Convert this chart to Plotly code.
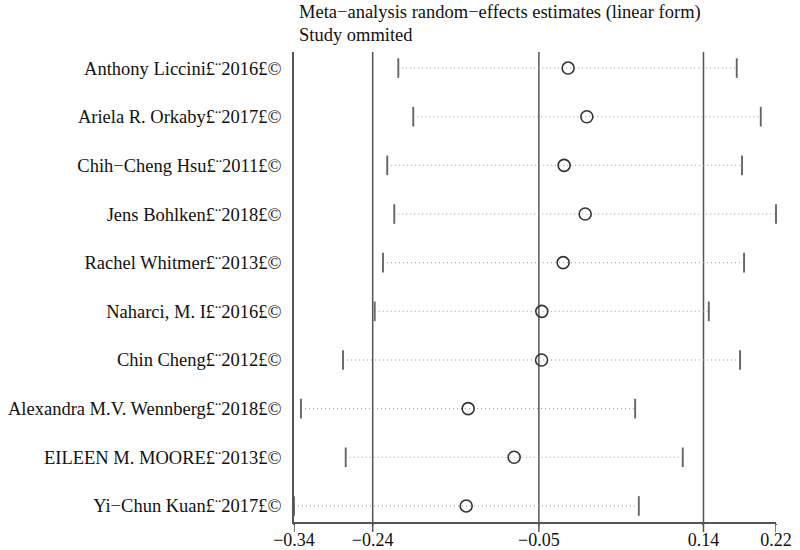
import plotly.graph_objects as go

studies = [
    "Anthony Liccini£¨2016£©",
    "Ariela R. Orkaby£¨2017£©",
    "Chih−Cheng Hsu£¨2011£©",
    "Jens Bohlken£¨2018£©",
    "Rachel Whitmer£¨2013£©",
    "Naharci, M. I£¨2016£©",
    "Chin Cheng£¨2012£©",
    "Alexandra M.V. Wennberg£¨2018£©",
    "EILEEN M. MOORE£¨2013£©",
    "Yi−Chun Kuan£¨2017£©",
]
estimate = [-0.0164, 0.0051, -0.0210, 0.0032, -0.0221, -0.0466, -0.0469, -0.1312, -0.0784, -0.1335]
lower = [-0.2115, -0.1943, -0.2242, -0.2161, -0.2291, -0.2386, -0.2750, -0.3233, -0.2719, -0.3313]
upper = [0.1773, 0.2049, 0.1834, 0.2224, 0.1857, 0.1452, 0.1811, 0.0606, 0.1153, 0.0648]

# combined estimate and its CI (reference lines) plus axis extremes
theta_lower, theta, theta_upper = -0.2409, -0.05, 0.1391
axis_min, axis_max = -0.3313, 0.2224
tick_vals = [axis_min, theta_lower, theta, theta_upper, axis_max]
tick_text = ["−0.34", "−0.24", "−0.05", "0.14", "0.22"]

title_lines = ["Meta−analysis random−effects estimates (linear form)", "Study ommited"]

FONT = "Liberation Serif"
FS = 18.5
ypos = list(range(len(studies)))
PLOT_H = 550 - 52 - 28

fig = go.Figure()

# dotted CI lines
lx, ly = [], []
for i, (lo, hi) in enumerate(zip(lower, upper)):
    lx += [lo, hi, None]
    ly += [i, i, None]
fig.add_trace(go.Scatter(x=lx, y=ly, mode="lines",
                         line=dict(color="#9a9a9a", width=1, dash="1px,3px"),
                         hoverinfo="skip", showlegend=False, cliponaxis=False))
# end caps
fig.add_trace(go.Scatter(x=lower + upper, y=ypos + ypos, mode="markers",
                         marker=dict(symbol="line-ns", size=14, color="#666666",
                                     line=dict(color="#666666", width=1.9)),
                         hoverinfo="skip", showlegend=False, cliponaxis=False))
# estimates
fig.add_trace(go.Scatter(x=estimate, y=ypos, mode="markers",
                         marker=dict(symbol="circle-open", size=12, color="#333333",
                                     line=dict(color="#333333", width=1.6)),
                         showlegend=False, cliponaxis=False))

for v in [theta_lower, theta, theta_upper]:
    fig.add_shape(type="line", xref="x", yref="paper", x0=v, x1=v, y0=0, y1=1,
                  line=dict(color="#555555", width=1.5), layer="below")

# outward tick marks (10 px below the axis)
for v in tick_vals:
    fig.add_shape(type="line", xref="x", yref="paper", x0=v, x1=v,
                  y0=0, y1=-10 / PLOT_H, line=dict(color="#555555", width=1.5))

for txt, shift in zip(title_lines, [40, 17]):
    fig.add_annotation(text=txt, xref="paper", yref="paper", x=0, y=1,
                       xanchor="left", yanchor="middle", xshift=3, yshift=shift,
                       showarrow=False, font=dict(family=FONT, size=FS, color="#111111"))

fig.update_layout(
    width=800, height=550,
    margin=dict(l=294, r=24, t=52, b=28, autoexpand=False),
    paper_bgcolor="white", plot_bgcolor="white",
    font=dict(family=FONT, size=FS, color="#111111"),
    xaxis=dict(range=[axis_min, axis_max], tickvals=tick_vals, ticktext=tick_text,
               automargin=False,
               showgrid=False, zeroline=False, showline=True, linecolor="#555555",
               linewidth=1.5, ticks="outside", ticklen=1, tickwidth=1.5,
               tickcolor="#555555", tickfont=dict(family=FONT, size=18)),
    yaxis=dict(range=[len(studies) - 1 + 0.33, -0.33], tickvals=ypos, ticktext=studies,
               automargin=False,
               showgrid=False, zeroline=False, showline=True, linecolor="#555555",
               linewidth=1.5, ticks="outside", ticklen=7, tickcolor="rgba(0,0,0,0)",
               tickfont=dict(family=FONT, size=FS)),
)

fig.write_html("out.html", config={"displayModeBar": False},
               post_script="document.body.style.margin='0';document.body.style.overflow='hidden';")
